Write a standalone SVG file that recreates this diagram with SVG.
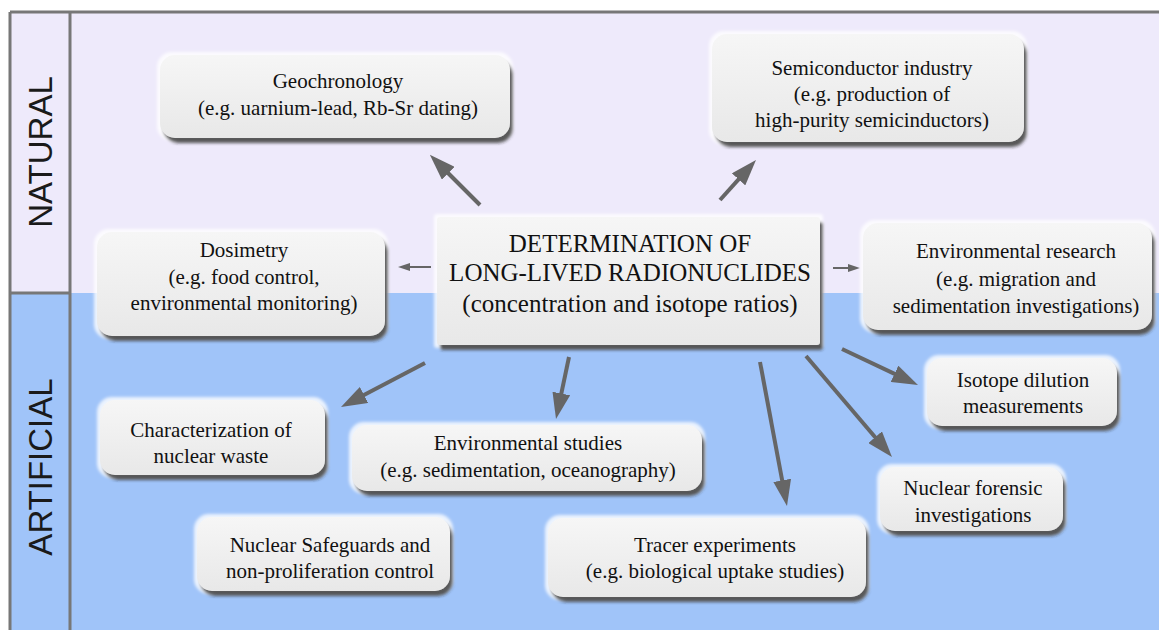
<svg xmlns="http://www.w3.org/2000/svg" width="1159" height="630" viewBox="0 0 1159 630">
<style>
.t{font-family:"Liberation Serif","Times New Roman",serif;font-size:21px;fill:#111111;text-anchor:middle}
.tc{font-family:"Liberation Serif","Times New Roman",serif;font-size:25px;fill:#111111;text-anchor:middle}
.side{font-family:"Liberation Sans",Arial,sans-serif;font-size:33px;fill:#1a1a1a;text-anchor:middle}
.box{fill:url(#g);filter:url(#sh)}
.frame{stroke:#777;stroke-width:3;fill:none}
.arr{stroke:#666;stroke-width:4;fill:none;marker-end:url(#ah)}
.arrs{stroke:#666;stroke-width:2;fill:none;marker-end:url(#ahs)}
</style>
<defs>
<linearGradient id="g" x1="0" y1="0" x2="0" y2="1">
<stop offset="0" stop-color="#f6f6f6"/>
<stop offset="1" stop-color="#e8e8e8"/>
</linearGradient>
<filter id="sh" x="-10%" y="-20%" width="125%" height="150%">
<feMorphology in="SourceAlpha" operator="dilate" radius="3" result="d"/>
<feGaussianBlur in="d" stdDeviation="1.5" result="db"/>
<feFlood flood-color="#ffffff" flood-opacity="0.8"/>
<feComposite in2="db" operator="in" result="halo"/>
<feGaussianBlur in="SourceAlpha" stdDeviation="1.5" result="b"/>
<feOffset in="b" dx="3" dy="5" result="o"/>
<feFlood flood-color="#222222" flood-opacity="0.9"/>
<feComposite in2="o" operator="in" result="shadow"/>
<feMerge><feMergeNode in="halo"/><feMergeNode in="shadow"/><feMergeNode in="SourceGraphic"/></feMerge>
</filter>
<marker id="ah" markerUnits="userSpaceOnUse" markerWidth="26" markerHeight="18" refX="6" refY="9" orient="auto">
<path d="M0,0 L26,9 L0,18 z" fill="#666"/>
</marker>
<marker id="ahs" markerUnits="userSpaceOnUse" markerWidth="12" markerHeight="8" refX="3" refY="4" orient="auto">
<path d="M0,0 L12,4 L0,8 z" fill="#666"/>
</marker>
</defs>

<rect x="0" y="0" width="1159" height="630" fill="#ffffff"/>
<g id="background">
<rect x="10" y="12" width="1149" height="281" fill="#eeeafb"/>
<rect x="10" y="293" width="1149" height="337" fill="#a0c4f9"/>
<line class="frame" x1="10" y1="12" x2="1159" y2="12"/>
<line class="frame" x1="10" y1="12" x2="10" y2="630"/>
<line class="frame" x1="70" y1="12" x2="70" y2="630"/>
<line class="frame" x1="10" y1="293" x2="70" y2="293"/>
<text class="side" transform="translate(52,152) rotate(-90)">NATURAL</text>
<text class="side" transform="translate(52,467) rotate(-90)">ARTIFICIAL</text>
</g>

<g id="connectors">
<line class="arr" x1="480" y1="205" x2="444" y2="169"/>
<line class="arr" x1="720" y1="200" x2="742.6" y2="174.9"/>
<line class="arrs" x1="431" y1="267" x2="407" y2="267"/>
<line class="arrs" x1="833" y1="268" x2="851" y2="268"/>
<line class="arr" x1="425" y1="363" x2="358.7" y2="397.7"/>
<line class="arr" x1="569" y1="357" x2="560.1" y2="399.4"/>
<line class="arr" x1="760" y1="362" x2="783.3" y2="486.3"/>
<line class="arr" x1="842" y1="349" x2="899.9" y2="376.4"/>
<line class="arr" x1="806" y1="356" x2="879" y2="441.8"/>
</g>

<g id="geochronology">
<rect class="box" x="160" y="55" width="350" height="83" rx="15"/>
<text class="t" x="338" y="88">Geochronology</text>
<text class="t" x="338" y="115">(e.g. uarnium-lead, Rb-Sr dating)</text>
</g>

<g id="semiconductor">
<rect class="box" x="712" y="34" width="312" height="108" rx="15"/>
<text class="t" x="872" y="75">Semiconductor industry</text>
<text class="t" x="872" y="101">(e.g. production of</text>
<text class="t" x="872" y="127">high-purity semicinductors)</text>
</g>

<g id="dosimetry">
<rect class="box" x="97" y="232" width="288" height="104" rx="15"/>
<text class="t" x="244" y="257">Dosimetry</text>
<text class="t" x="244" y="284">(e.g. food control,</text>
<text class="t" x="244" y="310">environmental monitoring)</text>
</g>

<g id="center">
<rect class="box" x="437" y="217" width="383" height="128" rx="3"/>
<text class="tc" x="630" y="252">DETERMINATION OF</text>
<text class="tc" x="630" y="281">LONG-LIVED RADIONUCLIDES</text>
<text class="tc" x="630" y="312">(concentration and isotope ratios)</text>
</g>

<g id="environmental-research">
<rect class="box" x="863" y="223" width="289" height="107" rx="15"/>
<text class="t" x="1016" y="258">Environmental research</text>
<text class="t" x="1016" y="286">(e.g. migration and</text>
<text class="t" x="1016" y="313">sedimentation investigations)</text>
</g>

<g id="isotope-dilution">
<rect class="box" x="927" y="358" width="190" height="68" rx="15"/>
<text class="t" x="1023" y="387">Isotope dilution</text>
<text class="t" x="1023" y="413">measurements</text>
</g>

<g id="nuclear-forensic">
<rect class="box" x="880" y="467" width="183" height="64" rx="15"/>
<text class="t" x="973" y="495">Nuclear forensic</text>
<text class="t" x="973" y="522">investigations</text>
</g>

<g id="tracer">
<rect class="box" x="548" y="518" width="318" height="79" rx="15"/>
<text class="t" x="715" y="552">Tracer experiments</text>
<text class="t" x="715" y="578">(e.g. biological uptake studies)</text>
</g>

<g id="environmental-studies">
<rect class="box" x="352" y="425" width="350" height="66" rx="15"/>
<text class="t" x="528" y="450">Environmental studies</text>
<text class="t" x="528" y="477">(e.g. sedimentation, oceanography)</text>
</g>

<g id="nuclear-waste">
<rect class="box" x="100" y="400" width="225" height="75" rx="15"/>
<text class="t" x="211" y="437">Characterization of</text>
<text class="t" x="211" y="463">nuclear waste</text>
</g>

<g id="safeguards">
<rect class="box" x="197" y="517" width="253" height="74" rx="15"/>
<text class="t" x="330" y="552">Nuclear Safeguards and</text>
<text class="t" x="330" y="578">non-proliferation control</text>
</g>
</svg>
